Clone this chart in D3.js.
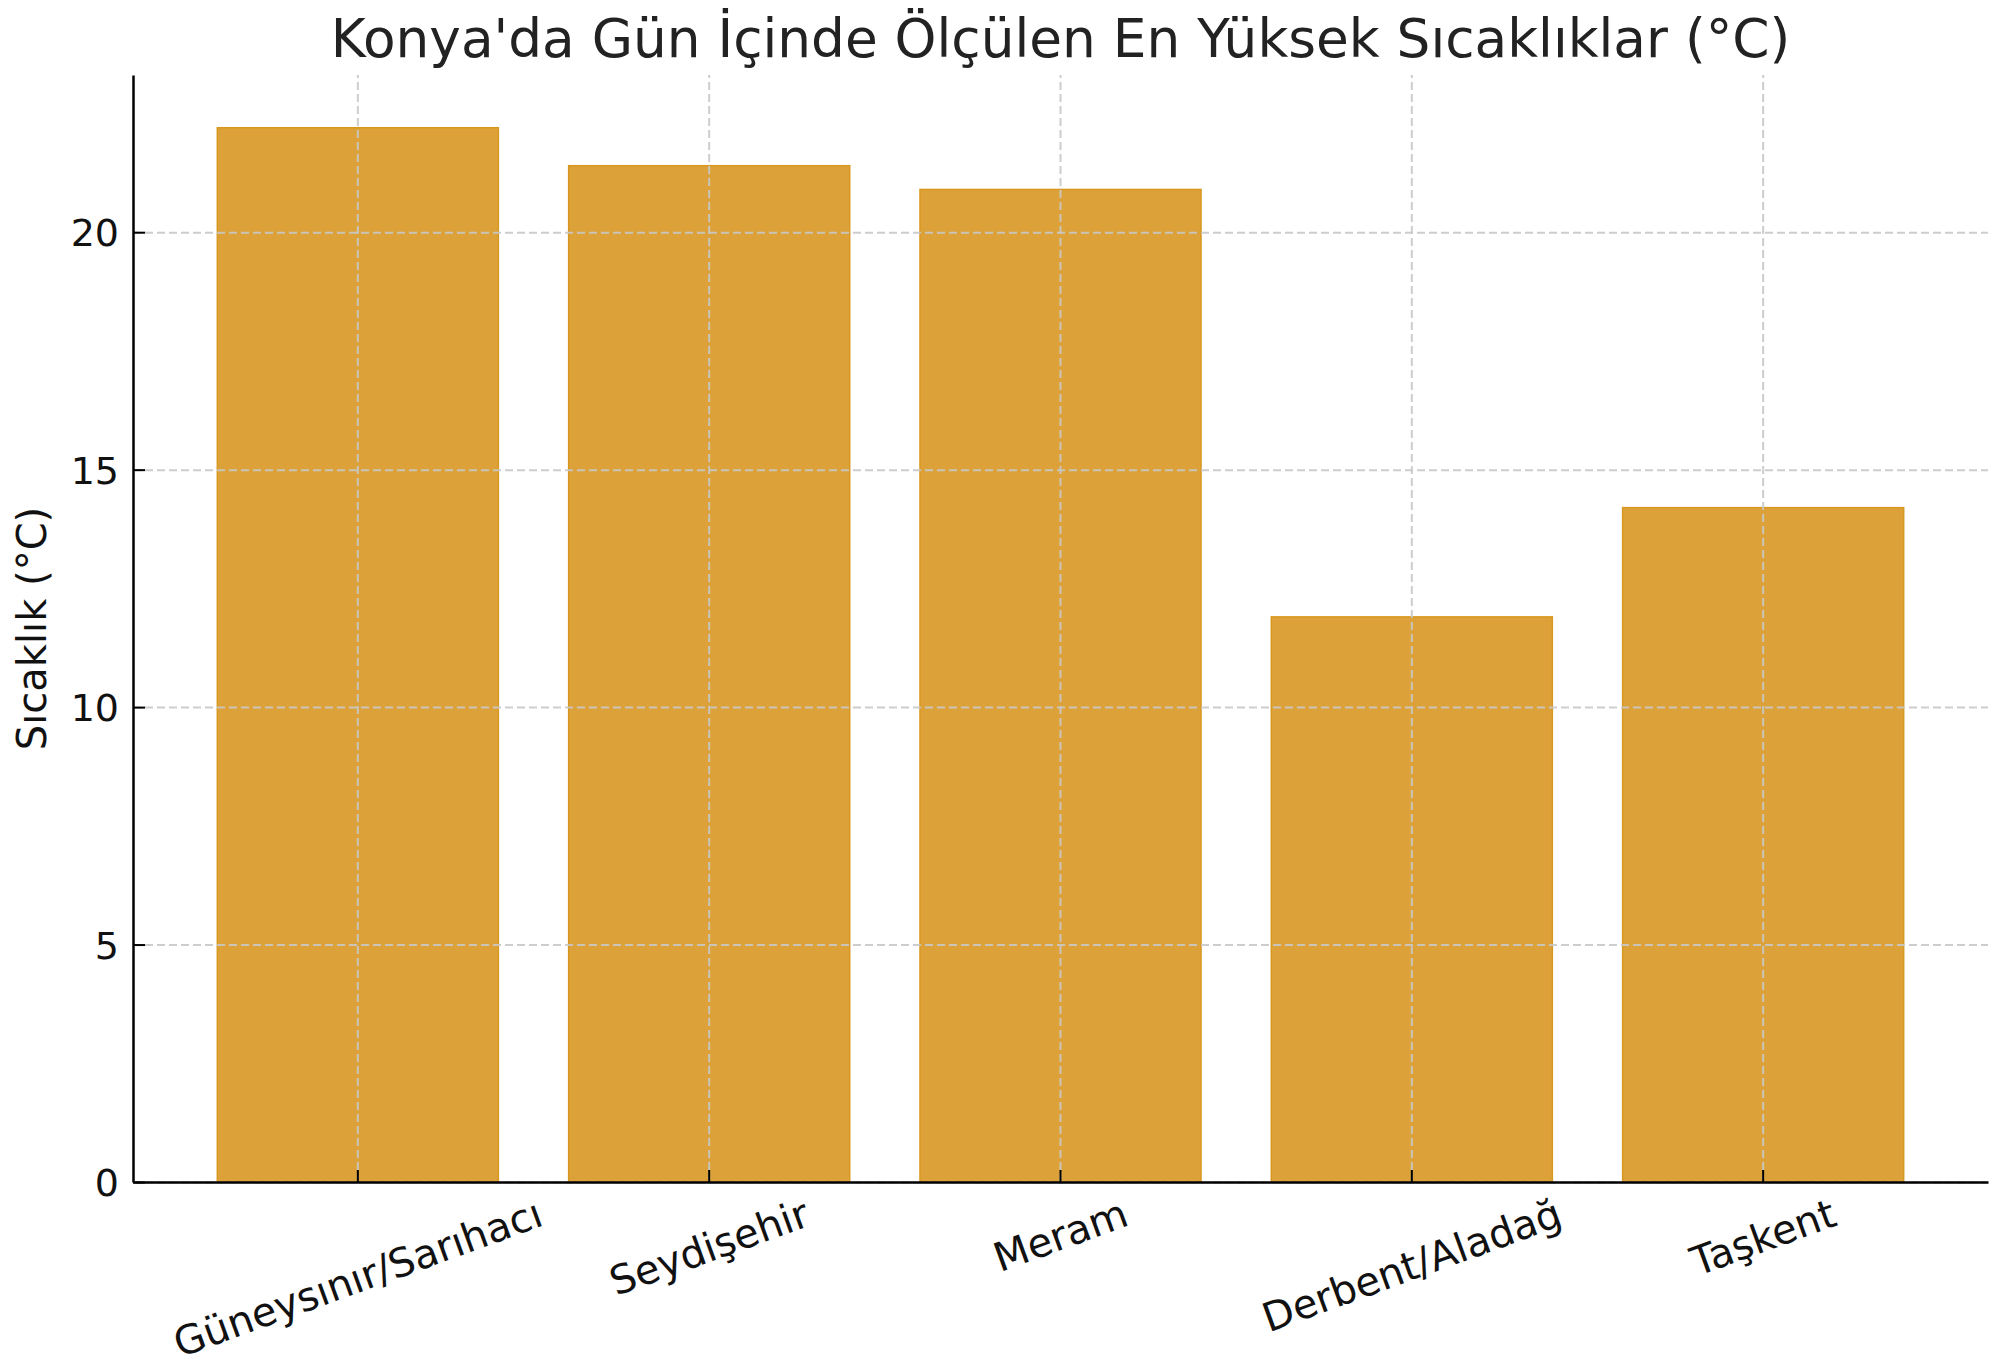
<!DOCTYPE html>
<html>
<head>
<meta charset="utf-8">
<script src="https://cdn.jsdelivr.net/npm/d3@7"></script>
<style>
    body { margin: 0; background: #fff; }
    text { font-family: "DejaVu Sans", sans-serif; }
</style>
</head>
<body>
<svg id="chart"></svg>
<script>
// Data
const stations = ["Güneysınır/Sarıhacı", "Seydişehir", "Meram", "Derbent/Aladağ", "Taşkent"];
const maxTemps = [22.2, 21.4, 20.9, 11.9, 14.2];
const yTicks = [0, 5, 10, 15, 20];
const titleText = "Konya'da Gün İçinde Ölçülen En Yüksek Sıcaklıklar (°C)";
const yLabelText = "Sıcaklık (°C)";

const data = stations.map((s, i) => ({ station: s, value: maxTemps[i] }));

// Dimensions of the figure
const width = 2000;
const height = 1370;
const margin = { top: 75, right: 12, bottom: 188, left: 133 };
const innerW = width - margin.left - margin.right;
const innerH = height - margin.top - margin.bottom;

const barColor = "#dca239";
const gridColor = "#c8c8c8";

const svg = d3.select("#chart")
    .attr("width", width)
    .attr("height", height);

svg.append("rect")
    .attr("width", width)
    .attr("height", height)
    .attr("fill", "#fff");

const g = svg.append("g")
    .attr("transform", `translate(${margin.left}, ${margin.top})`);

// Scales (matplotlib style: bar width 0.8, 5% margins)
const x = d3.scaleBand()
    .domain(stations)
    .range([0, innerW])
    .paddingInner(0.2)
    .paddingOuter(0.24);

const y = d3.scaleLinear()
    .domain([0, d3.max(maxTemps) * 1.05])
    .range([innerH, 0]);

// Bars
g.selectAll(".bar")
    .data(data)
    .enter()
    .append("rect")
    .attr("class", "bar")
    .attr("x", d => x(d.station))
    .attr("y", d => y(d.value))
    .attr("width", x.bandwidth())
    .attr("height", d => innerH - y(d.value))
    .attr("fill", barColor)
    .attr("stroke", "#d8981f")
    .attr("stroke-width", 1.5);

// Grid lines drawn over the bars
const yGrid = g.append("g")
    .call(d3.axisLeft(y).tickValues(yTicks).tickSize(-innerW).tickFormat(""));
yGrid.select(".domain").remove();
yGrid.selectAll("line")
    .attr("stroke", gridColor)
    .attr("stroke-width", 2)
    .attr("stroke-dasharray", "8,4")
    .attr("opacity", 0.9);

const xGrid = g.append("g")
    .attr("transform", `translate(0, ${innerH})`)
    .call(d3.axisBottom(x).tickSize(-innerH).tickFormat(""));
xGrid.select(".domain").remove();
xGrid.selectAll("line")
    .attr("stroke", gridColor)
    .attr("stroke-width", 2)
    .attr("stroke-dasharray", "8,4")
    .attr("opacity", 0.9);

// Y axis, ticks pointing inward
const yAxis = g.append("g")
    .call(d3.axisLeft(y).tickValues(yTicks).tickSizeInner(-12).tickSizeOuter(0).tickPadding(14));
yAxis.select(".domain").attr("stroke", "#000").attr("stroke-width", 2.5);
yAxis.selectAll(".tick line").attr("stroke", "#000").attr("stroke-width", 2);
yAxis.selectAll("text")
    .style("font-size", "38px")
    .style("font-family", "DejaVu Sans")
    .attr("fill", "#111")
    .attr("dy", "0.36em");

// X axis, ticks pointing inward, rotated labels
const xAxis = g.append("g")
    .attr("transform", `translate(0, ${innerH})`)
    .call(d3.axisBottom(x).tickSizeInner(-12).tickSizeOuter(0));
xAxis.select(".domain").attr("stroke", "#000").attr("stroke-width", 2.5);
xAxis.selectAll(".tick line").attr("stroke", "#000").attr("stroke-width", 2);

const angle = 20 * Math.PI / 180;
xAxis.selectAll("text")
    .style("font-size", "40px")
    .style("font-family", "DejaVu Sans")
    .attr("fill", "#111")
    .attr("y", 0)
    .attr("dy", null)
    .attr("text-anchor", "middle")
    .attr("dominant-baseline", "central")
    .attr("transform", function () {
        const w = this.getComputedTextLength();
        const bh = w * Math.sin(angle) + 46 * Math.cos(angle);
        return `translate(0, ${8 + bh / 2}) rotate(-20)`;
    });

// Title
svg.append("text")
    .attr("x", margin.left + innerW / 2)
    .attr("y", 57)
    .attr("text-anchor", "middle")
    .style("font-size", "53.3px")
    .attr("fill", "#222")
    .text(titleText);

// Y axis label
svg.append("text")
    .attr("transform", `translate(46, ${margin.top + innerH / 2}) rotate(-90)`)
    .attr("text-anchor", "middle")
    .style("font-size", "40px")
    .attr("fill", "#111")
    .text(yLabelText);
</script>
</body>
</html>
